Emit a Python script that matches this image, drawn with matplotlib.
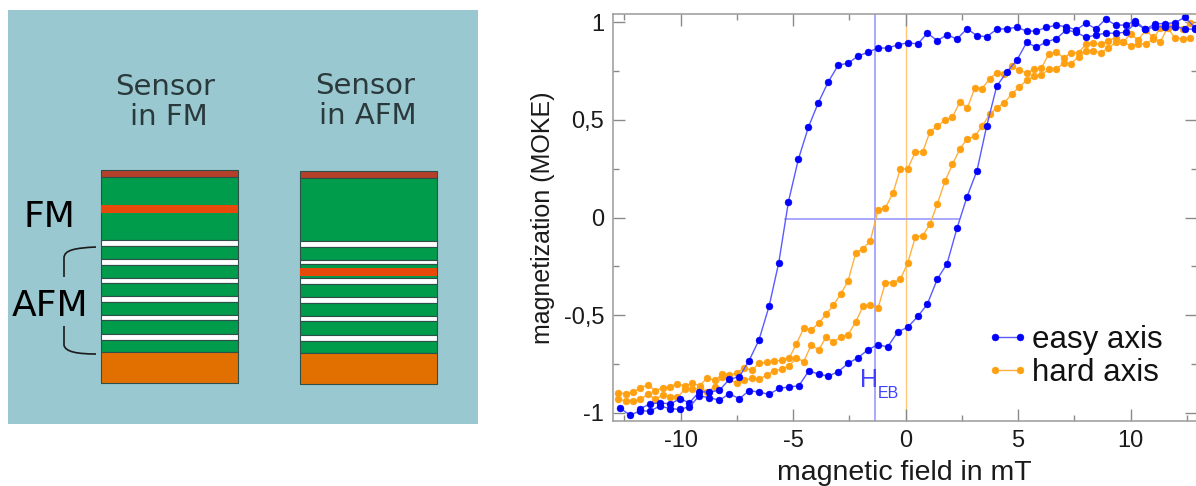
import matplotlib
matplotlib.use("Agg")
import matplotlib.pyplot as plt
from matplotlib.patches import PathPatch, Rectangle
from matplotlib.path import Path
from matplotlib.ticker import FixedLocator, FuncFormatter

plt.rcParams['font.family'] = ['Liberation Sans', 'DejaVu Sans']

# hysteresis loops
easy_down_x = [-11.80, -11.36, -10.92, -10.47, -10.03, -9.61, -9.17, -8.72, -8.28, -7.84, -7.39, -6.96, -6.52, -6.07,
               -5.64, -5.21, -4.77, -4.32, -3.88, -3.45, -3.00, -2.56, -2.13, -1.68, -1.24, -0.80, -0.35, 0.09, 0.54,
               0.96, 1.41, 1.84, 2.28, 2.73, 3.17, 3.60, 4.05, 4.49, 4.94, 5.38, 5.81, 6.25, 6.70, 7.14, 7.57, 8.02,
               8.46, 8.89, 9.34, 9.78, 10.21, 10.65, 11.10, 11.53, 11.97, 12.42, 12.86]
easy_down_y = [-0.98, -0.956, -0.95, -0.956, -0.93, -0.95, -0.893, -0.895, -0.886, -0.83, -0.816, -0.734, -0.628,
               -0.455, -0.232, 0.081, 0.298, 0.464, 0.589, 0.693, 0.781, 0.791, 0.827, 0.847, 0.869, 0.869, 0.885,
               0.896, 0.89, 0.945, 0.907, 0.937, 0.915, 0.968, 0.932, 0.927, 0.965, 0.968, 0.975, 0.956, 0.956, 0.975,
               0.986, 0.978, 0.962, 0.996, 0.967, 1.018, 0.986, 0.987, 1.008, 0.965, 0.994, 0.994, 0.999, 1.027, 0.972]

easy_up_x = [-12.69, -12.25, -11.80, -11.36, -10.92, -10.47, -10.03, -9.61, -9.17, -8.72, -8.28, -7.84, -7.39, -6.96,
             -6.52, -6.07, -5.62, -5.19, -4.75, -4.30, -3.86, -3.43, -3.00, -2.56, -2.12, -1.68, -1.24, -0.80, -0.35,
             0.09, 0.54, 0.96, 1.41, 1.84, 2.28, 2.73, 3.17, 3.60, 4.05, 4.49, 4.94, 5.38, 5.81, 6.25, 6.70, 7.14,
             7.57, 8.02, 8.46, 8.89, 9.34, 9.78, 10.21, 10.65, 11.10, 11.53, 11.97, 12.42, 12.86]
easy_up_y = [-0.978, -1.013, -0.992, -0.992, -0.967, -0.98, -0.984, -0.97, -0.915, -0.924, -0.937, -0.904, -0.929,
             -0.888, -0.895, -0.907, -0.876, -0.869, -0.863, -0.786, -0.804, -0.813, -0.791, -0.748, -0.719, -0.679,
             -0.652, -0.664, -0.586, -0.563, -0.507, -0.445, -0.315, -0.237, -0.056, 0.107, 0.24, 0.468, 0.674, 0.745,
             0.806, 0.898, 0.873, 0.9, 0.917, 0.962, 0.95, 0.924, 0.936, 0.945, 0.945, 0.95, 0.996, 0.965, 0.978,
             0.978, 0.978, 0.967, 0.965]

hard_x = [-12.77, -12.44, -12.12, -11.79, -11.46, -11.12, -10.80, -10.47, -10.15, -9.80, -9.48, -9.15, -8.83, -8.48,
          -8.16, -7.84, -7.51, -7.18, -6.84, -6.52, -6.17, -5.85, -5.51, -5.18, -4.86, -4.53, -4.20, -3.86, -3.54,
          -3.21, -2.88, -2.56, -2.22, -1.89, -1.57, -1.23, -0.90, -0.56, -0.24, 0.09, 0.43, 0.76, 1.08, 1.41, 1.75,
          2.08, 2.42, 2.74, 3.07, 3.40, 3.74, 4.06, 4.39, 4.73, 5.05, 5.38, 5.71, 6.03, 6.37, 6.70, 7.03, 7.35, 7.69,
          8.02, 8.34, 8.68, 9.01, 9.34, 9.68, 10.0, 10.33, 10.67, 11.0, 11.32, 11.66, 11.97, 12.32, 12.65]
hard_down_y = [-0.898, -0.905, -0.895, -0.873, -0.859, -0.888, -0.873, -0.869, -0.854, -0.863, -0.85, -0.863, -0.823,
               -0.835, -0.804, -0.806, -0.799, -0.77, -0.784, -0.748, -0.741, -0.737, -0.732, -0.722, -0.649, -0.568,
               -0.578, -0.541, -0.496, -0.45, -0.391, -0.326, -0.182, -0.16, -0.119, 0.037, 0.05, 0.126, 0.249, 0.249,
               0.337, 0.337, 0.44, 0.468, 0.5, 0.515, 0.594, 0.56, 0.663, 0.661, 0.712, 0.743, 0.734, 0.775, 0.756,
               0.741, 0.76, 0.765, 0.84, 0.847, 0.819, 0.844, 0.845, 0.891, 0.893, 0.888, 0.907, 0.922, 0.9, 0.941,
               0.91, 0.96, 0.924, 0.9, 0.978, 0.994, 0.965, 0.996]
hard_up_y = [-0.931, -0.941, -0.941, -0.931, -0.907, -0.931, -0.91, -0.919, -0.922, -0.88, -0.881, -0.876, -0.893,
             -0.868, -0.816, -0.83, -0.85, -0.835, -0.825, -0.828, -0.809, -0.786, -0.778, -0.763, -0.719, -0.739,
             -0.654, -0.678, -0.614, -0.638, -0.613, -0.601, -0.536, -0.454, -0.45, -0.466, -0.334, -0.334, -0.317,
             -0.235, -0.1, -0.093, -0.035, 0.071, 0.186, 0.273, 0.353, 0.404, 0.416, 0.469, 0.529, 0.563, 0.589, 0.635,
             0.669, 0.704, 0.724, 0.731, 0.76, 0.762, 0.792, 0.789, 0.825, 0.852, 0.854, 0.844, 0.869, 0.898, 0.898,
             0.881, 0.89, 0.89, 0.914, 0.973, 0.97, 0.921, 0.915, 0.922]

h_eb = -1.36
easy_coercive = [-5.36, 2.37]
x_major = [-10, -5, 0, 5, 10]
x_minor = [-12.5, -7.5, -2.5, 2.5, 7.5, 12.5]
y_major = [-1, -0.5, 0, 0.5, 1]
y_minor = [-0.75, -0.25, 0.25, 0.75]

# layer stacks of the sketch: top, bottom, colour
GREEN = '#009B4B'
WHITE = '#FFFFFF'
stack_fm_top = [170, 177, 205, 240, 246, 259, 265, 278, 283, 296, 302, 315, 320, 334, 340, 352]
stack_fm_bot = [177, 240, 213, 246, 259, 265, 278, 283, 296, 302, 315, 320, 334, 340, 352, 383]
stack_fm_col = ['#B5402A', GREEN, '#E84A0C', WHITE, GREEN, WHITE, GREEN, WHITE, GREEN, WHITE, GREEN, WHITE, GREEN,
                WHITE, GREEN, '#E27000']
stack_afm_top = [171, 178, 241, 247, 260, 264, 268, 278, 284, 297, 303, 316, 321, 335, 341, 353]
stack_afm_bot = [178, 241, 247, 260, 264, 278, 276, 284, 297, 303, 316, 321, 335, 341, 353, 384]
stack_afm_col = ['#B5402A', GREEN, WHITE, GREEN, WHITE, GREEN, '#E84A0C', WHITE, GREEN, WHITE, GREEN, WHITE, GREEN,
                 WHITE, GREEN, '#E27000']

W, H = 1196, 486
fig = plt.figure(figsize=(W / 100, H / 100), dpi=100, facecolor='white')

# left sketch, axes in pixels
sk = fig.add_axes([0, 0, 480 / W, 1])
sk.set_xlim(0, 480)
sk.set_ylim(H, 0)
sk.axis('off')
sk.add_patch(Rectangle((8, 10), 470, 414, fc='#9AC8D0', ec='none'))


def draw_stack(left, width, tops, bots, cols):
    for t, b, c in zip(tops, bots, cols):
        red = c == '#E84A0C'
        sk.barh((t + b) / 2, width, height=b - t, left=left, color=c,
                edgecolor='none' if red else '#2F4F4A', linewidth=0.8, zorder=3 if red else 2)


draw_stack(100.7, 137, stack_fm_top, stack_fm_bot, stack_fm_col)
draw_stack(300, 137, stack_afm_top, stack_afm_bot, stack_afm_col)

bracket_top = Path([(96, 247), (75, 248), (64, 250), (64, 258), (64, 277)],
                   [Path.MOVETO, Path.CURVE4, Path.CURVE4, Path.CURVE4, Path.LINETO])
bracket_bot = Path([(64, 326), (64, 345), (65, 352), (78, 354), (96, 354)],
                   [Path.MOVETO, Path.LINETO, Path.CURVE4, Path.CURVE4, Path.CURVE4])
for p in (bracket_top, bracket_bot):
    sk.add_patch(PathPatch(p, fc='none', ec='#1A1A1A', lw=1.2))

sk.text(165, 87, 'Sensor', fontsize=21, family='DejaVu Sans', color='#2A3A3C', ha='center', va='center')
sk.text(169, 117, 'in FM', fontsize=21, family='DejaVu Sans', color='#2A3A3C', ha='center', va='center')
sk.text(365, 86, 'Sensor', fontsize=21, family='DejaVu Sans', color='#2A3A3C', ha='center', va='center')
sk.text(368, 116, 'in AFM', fontsize=21, family='DejaVu Sans', color='#2A3A3C', ha='center', va='center')
sk.text(49, 217, 'FM', fontsize=26, family='DejaVu Sans', color='black', ha='center', va='center')
sk.text(50, 306, 'AFM', fontsize=26, family='DejaVu Sans', color='black', ha='center', va='center')

# right chart
L, R, T, B = 612.5, 1197, 13.7, 421.3
ax = fig.add_axes([L / W, 1 - B / H, (R - L) / W, (B - T) / H])
ax.set_xlim(-13.03, 12.95)
ax.set_ylim(-1.045, 1.045)

ax.axvline(h_eb, color='#9A9AFF', lw=1.2, zorder=1)
ax.axvline(0, color='#FFC878', lw=1.0, zorder=1)
ax.plot(easy_coercive, [-0.006, -0.006], color='#9A9AFF', lw=1.2, zorder=1)

blue_kw = dict(color='#5A5AFF', lw=1.0, marker='o', ms=5, mfc='#0000FF', mec='#0000FF', mew=0.3)
orange_kw = dict(color='#FFB040', lw=1.0, marker='o', ms=5, mfc='#FFA010', mec='#FFA010', mew=0.3)
ax.plot(hard_x, hard_down_y, label='hard axis', **orange_kw)
ax.plot(hard_x, hard_up_y, **orange_kw)
ax.plot(easy_down_x, easy_down_y, label='easy axis', **blue_kw)
ax.plot(easy_up_x, easy_up_y, **blue_kw)

for s in ax.spines.values():
    s.set_color('#9A9A9A')
    s.set_linewidth(1.1)
ax.xaxis.set_major_locator(FixedLocator(x_major))
ax.xaxis.set_minor_locator(FixedLocator(x_minor))
ax.yaxis.set_major_locator(FixedLocator(y_major))
ax.yaxis.set_minor_locator(FixedLocator(y_minor))
ax.yaxis.set_major_formatter(FuncFormatter(lambda v, pos: f'{v:g}'.replace('.', ',')))
ax.xaxis.set_major_formatter(FuncFormatter(lambda v, pos: f'{v:g}'))
ax.tick_params(which='major', direction='in', top=True, right=True, length=8.6, width=1.0, color='#8A8A8A',
               labelsize=17, labelcolor='#1A1A1A')
ax.tick_params(which='minor', direction='in', top=True, right=True, length=4.3, width=1.0, color='#8A8A8A')
ax.tick_params(axis='x', which='major', pad=6)
ax.tick_params(axis='y', which='major', pad=6)

ax.set_xlabel('magnetic field in mT', fontsize=20.5, color='#1A1A1A', labelpad=6)
ax.set_ylabel('magnetization (MOKE)', fontsize=18, color='#1A1A1A', labelpad=6)

ax.text(-2.05, -0.87, 'H', fontsize=18, color='#4040FF', ha='left', va='baseline')
ax.text(-1.26, -0.925, 'EB', fontsize=11.5, color='#4040FF', ha='left', va='baseline')

handles, labels = ax.get_legend_handles_labels()
ax.legend(handles[::-1], labels[::-1], loc='lower left', bbox_to_anchor=((985.6 - L) / (R - L), (B - 388) / (B - T)),
          frameon=False, fontsize=22.5, numpoints=2, markerscale=1, handlelength=1.4, handletextpad=0.08,
          labelspacing=0.1, borderpad=0, borderaxespad=0, labelcolor='#111111')

fig.savefig('out.png', dpi=100, facecolor='white')
